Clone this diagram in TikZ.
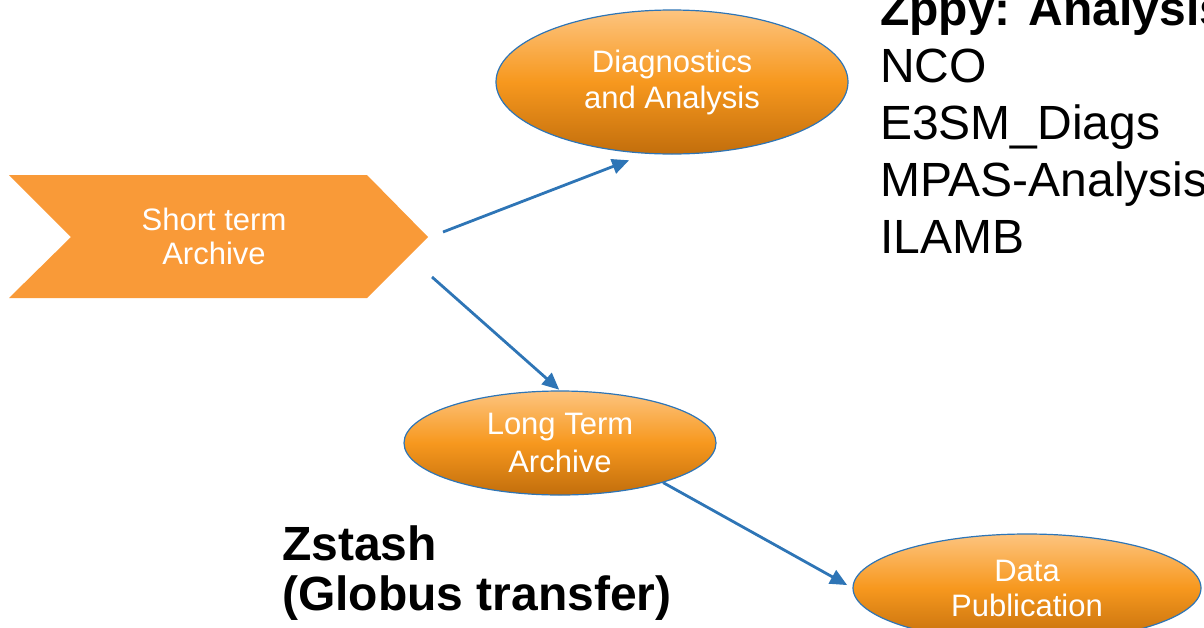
\documentclass[tikz,border=0pt]{standalone}
\usepackage{fontspec}
\setmainfont{Liberation Sans}
\usetikzlibrary{shapes.geometric,arrows.meta}
\definecolor{edgeblue}{HTML}{2E75B6}
\definecolor{chev}{HTML}{F99A38}
\definecolor{otop}{HTML}{FDC47F}
\definecolor{omid}{HTML}{F7981E}
\definecolor{obot}{HTML}{C26E0C}
\begin{document}
\begin{tikzpicture}[x=1pt,y=-1pt,
  oval/.style={ellipse, draw=edgeblue, line width=1.2pt, top color=otop, bottom color=obot, middle color=omid, inner sep=0pt, text=white, align=center},
  link/.style={draw=edgeblue, line width=2.8pt, -{Triangle[length=17pt,width=15pt]}},
  nodetext/.style={text=white, align=center},
  plain/.style={anchor=base west, inner sep=0pt, text=black}]
\useasboundingbox (0,0) rectangle (1204,627);
\clip (0,0) rectangle (1204,627);
% chevron
\fill[chev] (9,175) -- (367,175) -- (428,237) -- (367,298) -- (9,298) -- (71,237) -- cycle;
\node[nodetext, font=\fontsize{31}{34}\selectfont] (sta) at (214,236) {Short term\\Archive};
% ellipses
\node[oval, minimum width=352pt, minimum height=144pt, font=\fontsize{31}{36}\selectfont] (diag) at (672,82) {Diagnostics\\and Analysis};
\path (diag.center) ++(0,0) coordinate (dc);
\node[oval, minimum width=312pt, minimum height=104pt, font=\fontsize{31}{38}\selectfont, text depth=0pt] (lta) at (560,443) {Long Term\\Archive};
\node[oval, minimum width=348pt, minimum height=108pt, font=\fontsize{31}{35}\selectfont] (dp) at (1027,588) {Data\\Publication};
% connectors
\coordinate (s1) at (443,232);
\coordinate (s2) at (432,277);
\draw[link, shorten >=18pt] (s1) -- (diag.250);
\draw[link, shorten >=1pt] (s2) -- (lta.north);
\draw[link, shorten >=6pt] (lta.-21) -- (dp.west);
% side texts
\node[plain, font=\fontsize{48}{57}\bfseries] (zppy) at (880,25) {Zppy: Analysis};
\node[plain, font=\fontsize{48}{57}\selectfont] (nco) at (880,82) {NCO};
\node[plain, font=\fontsize{48}{57}\selectfont] (e3sm) at (880,139) {E3SM\_Diags};
\node[plain, font=\fontsize{48}{57}\selectfont] (mpas) at (880,196) {MPAS-Analysis};
\node[plain, font=\fontsize{48}{57}\selectfont] (ilamb) at (880,253) {ILAMB};
\node[plain, font=\fontsize{48}{50}\bfseries] (zst) at (282,560) {Zstash};
\node[plain, font=\fontsize{48}{50}\bfseries] (glob) at (282,610) {(Globus transfer)};
\end{tikzpicture}
\end{document}
